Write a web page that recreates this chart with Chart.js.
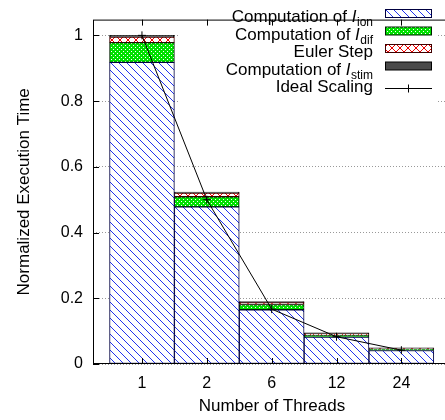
<!DOCTYPE html>
<html>
<head>
<meta charset="utf-8">
<script src="https://cdn.jsdelivr.net/npm/chart.js@4.4.1/dist/chart.umd.min.js"></script>
<style>
  html, body { margin: 0; padding: 0; background: #fff; overflow: hidden; }
  canvas { display: block; }
</style>
</head>
<body>
<canvas id="grafica" width="456" height="420"></canvas>
<script>
// datos
const threads = ['1', '2', '6', '12', '24'];
const ionTime = [0.918, 0.478, 0.165, 0.082, 0.041];
const difTime = [0.060, 0.031, 0.016, 0.006, 0.004];
const eulerTime = [0.017, 0.011, 0.006, 0.004, 0.002];
const stimTime = [0.005, 0.003, 0.003, 0.003, 0.002];
const idealTime = [1, 0.5, 0.167, 0.083, 0.042];
const yTicks = [0, 0.2, 0.4, 0.6, 0.8, 1];

// textos de la leyenda (texto, I cursiva, subindice)
const legendText = ['Computation of ', 'Computation of ', 'Euler Step', 'Computation of ', 'Ideal Scaling'];
const legendItalic = ['I', 'I', '', 'I', ''];
const legendSub = ['ion', 'dif', '', 'stim', ''];

const FONT = '"Liberation Sans", Arial, Helvetica, sans-serif';
const canvas = document.getElementById('grafica');
const ctx = canvas.getContext('2d');

function hacerPatron(tam, dibujar) {
    const c = document.createElement('canvas');
    c.width = tam;
    c.height = tam;
    dibujar(c.getContext('2d'), tam);
    return ctx.createPattern(c, 'repeat');
}

// rayado azul "\\\"
const patIon = hacerPatron(8, (g, t) => {
    g.fillStyle = '#fff';
    g.fillRect(0, 0, t, t);
    g.strokeStyle = '#2233ee';
    g.lineWidth = 1;
    g.beginPath();
    g.moveTo(-1, -1); g.lineTo(t + 1, t + 1);
    g.moveTo(-1, t - 1); g.lineTo(1, t + 1);
    g.moveTo(t - 1, -1); g.lineTo(t + 1, 1);
    g.stroke();
});
// verde con puntos blancos
const patDif = hacerPatron(4, (g, t) => {
    g.fillStyle = '#00e000';
    g.fillRect(0, 0, t, t);
    g.fillStyle = '#fff';
    g.fillRect(1, 1, 1, 1);
    g.fillRect(3, 3, 1, 1);
});
// cruces rojas
const patEuler = hacerPatron(8, (g, t) => {
    g.fillStyle = '#fff';
    g.fillRect(0, 0, t, t);
    g.strokeStyle = '#ee0000';
    g.lineWidth = 1;
    g.beginPath();
    g.moveTo(0, 0); g.lineTo(t, t);
    g.moveTo(t, 0); g.lineTo(0, t);
    g.stroke();
});

const toPoints = arr => arr.map((v, i) => ({ x: i, y: v }));

// leyenda propia con fondo blanco + marco y ticks hacia dentro
const leyenda = {
    id: 'leyenda',
    afterDatasetsDraw(chart) {
        const c = chart.ctx;
        const area = chart.chartArea;
        const orden = [1, 2, 3, 4, 0];
        c.save();
        c.fillStyle = '#fff';
        c.fillRect(180, area.top + 1, 258, 91);

        orden.forEach((di, i) => {
            const ds = chart.data.datasets[di];
            const base = 22 + i * 17.5;
            let x = 373;
            c.fillStyle = '#000';
            c.textBaseline = 'alphabetic';
            c.textAlign = 'left';
            if (legendSub[i]) {
                c.font = '12px ' + FONT;
                x -= c.measureText(legendSub[i]).width;
                c.fillText(legendSub[i], x, base + 4);
            }
            if (legendItalic[i]) {
                c.font = 'italic 17px ' + FONT;
                x -= c.measureText(legendItalic[i]).width + 0.5;
                c.fillText(legendItalic[i], x, base);
            }
            c.font = '17px ' + FONT;
            x -= c.measureText(legendText[i]).width;
            c.fillText(legendText[i], x, base);

            if (ds.type === 'line') {
                c.strokeStyle = '#000';
                c.lineWidth = 1;
                c.beginPath();
                c.moveTo(385, base - 3.5);
                c.lineTo(432, base - 3.5);
                c.moveTo(408.5, base - 7.5);
                c.lineTo(408.5, base + 0.5);
                c.stroke();
            } else {
                c.fillStyle = ds.backgroundColor;
                c.fillRect(385.5, base - 12.5, 46, 8);
                c.strokeStyle = ds.borderColor;
                c.lineWidth = 1;
                c.strokeRect(385.5, base - 12.5, 46, 8);
            }
        });

        // marco
        c.strokeStyle = '#000';
        c.lineWidth = 1;
        c.strokeRect(area.left + 0.5, area.top + 0.5, area.right - area.left - 1, area.bottom - area.top - 1);
        // ticks
        const xs = chart.scales.x, ys = chart.scales.y;
        c.beginPath();
        ys.ticks.forEach(t => {
            const y = Math.round(ys.getPixelForValue(t.value)) + 0.5;
            c.moveTo(area.left, y);
            c.lineTo(area.left + 6, y);
        });
        xs.ticks.forEach(t => {
            const x = Math.round(xs.getPixelForValue(t.value)) + 0.5;
            c.moveTo(x, area.top);
            c.lineTo(x, area.top + 6);
            c.moveTo(x, area.bottom);
            c.lineTo(x, area.bottom - 6);
        });
        c.stroke();
        c.restore();
    }
};

const fuente = { family: FONT, size: 16 };
const fuenteTitulo = { family: FONT, size: 17 };

new Chart(ctx, {
    type: 'bar',
    data: {
        datasets: [
            {
                type: 'line',
                label: 'Ideal Scaling',
                data: toPoints(idealTime),
                borderColor: '#000',
                borderWidth: 1,
                pointStyle: 'cross',
                pointRadius: 4,
                pointBorderColor: '#000',
                pointBorderWidth: 1,
                fill: false,
                tension: 0,
                stack: 'ideal',
                order: 0
            },
            {
                label: 'Computation of Iion',
                data: toPoints(ionTime),
                backgroundColor: patIon,
                borderColor: '#000040',
                borderWidth: 1,
                borderSkipped: false,
                stack: 'tiempo',
                order: 1
            },
            {
                label: 'Computation of Idif',
                data: toPoints(difTime),
                backgroundColor: patDif,
                borderColor: '#002000',
                borderWidth: 1,
                borderSkipped: false,
                stack: 'tiempo',
                order: 1
            },
            {
                label: 'Euler Step',
                data: toPoints(eulerTime),
                backgroundColor: patEuler,
                borderColor: '#400000',
                borderWidth: 1,
                borderSkipped: false,
                stack: 'tiempo',
                order: 1
            },
            {
                label: 'Computation of Istim',
                data: toPoints(stimTime),
                backgroundColor: '#4a4a4a',
                borderColor: '#000',
                borderWidth: 1,
                borderSkipped: false,
                stack: 'tiempo',
                order: 1
            }
        ]
    },
    options: {
        responsive: false,
        animation: false,
        events: [],
        layout: { padding: { top: 5, right: 2, left: 0, bottom: 0 } },
        barPercentage: 1,
        categoryPercentage: 1,
        scales: {
            x: {
                type: 'linear',
                offset: false,
                min: -0.755,
                max: 4.765,
                afterBuildTicks: s => { s.ticks = threads.map((t, i) => ({ value: i })); },
                ticks: {
                    callback: v => threads[v],
                    font: fuente,
                    color: '#000',
                    padding: 10,
                    maxRotation: 0,
                    autoSkip: false
                },
                grid: { display: false, drawTicks: false, offset: false },
                border: { display: false },
                title: {
                    display: true,
                    text: 'Number of Threads',
                    font: fuenteTitulo,
                    color: '#000',
                    padding: { top: 0, bottom: 3 }
                },
                afterFit: s => { s.height = 56; }
            },
            y: {
                stacked: true,
                min: 0,
                max: 1.048,
                afterBuildTicks: s => { s.ticks = yTicks.map(v => ({ value: v })); },
                ticks: {
                    callback: v => String(v),
                    font: fuente,
                    color: '#000',
                    padding: 10
                },
                grid: { color: '#999', lineWidth: 1, drawTicks: false },
                border: { display: false, dash: [1, 2] },
                title: {
                    display: true,
                    text: 'Normalized Execution Time',
                    font: fuenteTitulo,
                    color: '#000',
                    padding: { top: 14, bottom: 0 }
                },
                afterFit: s => { s.width = 93; }
            }
        },
        plugins: {
            legend: { display: false },
            tooltip: { enabled: false }
        }
    },
    plugins: [leyenda]
});
</script>
</body>
</html>
